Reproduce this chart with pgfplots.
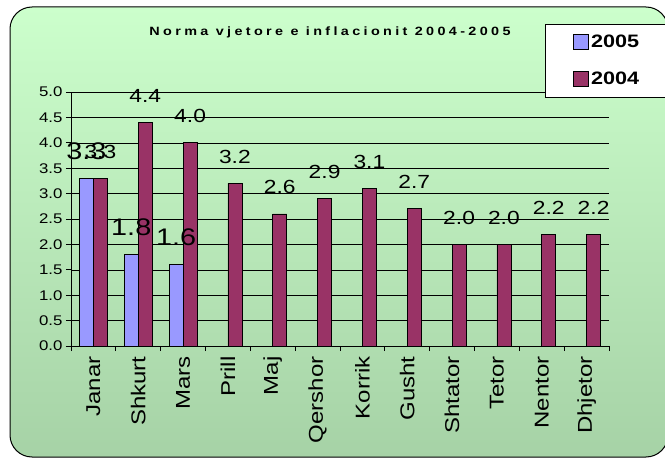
\documentclass[border=0pt]{standalone}
\usepackage{fontspec}
\setmainfont{Liberation Sans}[FakeStretch=1.2]
\usepackage{pgfplots}
\pgfplotsset{compat=1.18}
\definecolor{cblue}{RGB}{153,153,255}
\definecolor{cmaroon}{RGB}{153,51,102}
\definecolor{bgtop}{RGB}{204,255,204}
\definecolor{bgbot}{RGB}{166,210,166}
\begin{document}
\begin{tikzpicture}
\useasboundingbox (0,0) rectangle (665pt,459pt);
\shade[top color=bgtop, bottom color=bgbot, draw=black, line width=1pt, rounded corners=22pt] (10pt,2pt) rectangle (668pt,452pt);
\begin{axis}[
  at={(71pt,113pt)}, anchor=south west,
  scale only axis, width=538pt, height=254pt,
  ybar=0pt, bar width=14pt,
  xmin=-0.5, xmax=11.5, ymin=0, ymax=5,
  axis x line*=bottom, axis y line*=left,
  axis line style={black, line width=0.8pt},
  tick align=outside, major tick length=5pt, minor tick length=5pt,
  tick style={black, line width=0.8pt},
  ytick={0,0.5,1,1.5,2,2.5,3,3.5,4,4.5,5},
  ymajorgrids, grid style={black, line width=0.6pt},
  xtick={0,1,2,3,4,5,6,7,8,9,10,11},
  xticklabels={Janar,Shkurt,Mars,Prill,Maj,Qershor,Korrik,Gusht,Shtator,Tetor,Nentor,Dhjetor},
  major x tick style={draw=none},
  minor xtick={-0.5,0.5,1.5,2.5,3.5,4.5,5.5,6.5,7.5,8.5,9.5,10.5,11.5},
  x tick label style={rotate=90, anchor=east, font=\fontsize{20}{22}\selectfont, xshift=-2pt},
  y tick label style={font=\fontsize{14}{16}\selectfont},
  /pgf/number format/.cd, fixed, fixed zerofill, precision=1, assume math mode=true,
  /pgfplots/.cd,
  legend style={at={(0.881,1.268)}, anchor=north west, draw=black, fill=white, line width=0.6pt,
    font=\bfseries\fontsize{18}{20}\selectfont, inner xsep=28pt, inner ysep=9pt, row sep=19pt},
  legend cell align=left,
  legend image code/.code={\draw[#1,draw=black,line width=0.8pt] (0pt,-7.5pt) rectangle (15pt,7.5pt);},
]
\addplot[fill=cblue, draw=black, line width=0.8pt,
  nodes near coords,
  every node near coord/.append style={font=\fontsize{24}{26}\selectfont, anchor=base, yshift=19pt, black}]
  coordinates {(0,3.3) (1,1.8) (2,1.6)};
\addplot[fill=cmaroon, draw=black, line width=0.8pt,
  nodes near coords,
  every node near coord/.append style={font=\fontsize{19}{21}\selectfont, anchor=base, yshift=20pt, black}]
  coordinates {(0,3.3) (1,4.4) (2,4.0) (3,3.2) (4,2.6) (5,2.9) (6,3.1) (7,2.7) (8,2.0) (9,2.0) (10,2.2) (11,2.2)};
\legend{2005,2004}
\end{axis}
\node[font=\bfseries\fontsize{12}{14}\selectfont\addfontfeature{LetterSpace=28}] at (330pt,427pt) {Norma vjetore e inflacionit 2004-2005};
\end{tikzpicture}
\end{document}
